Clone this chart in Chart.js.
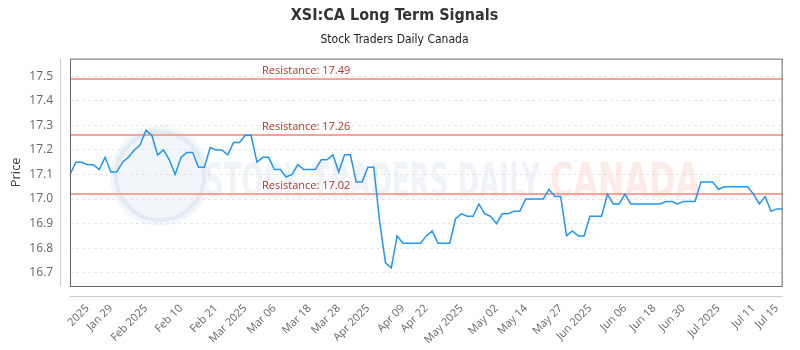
<!DOCTYPE html>
<html>
<head>
<meta charset="utf-8">
<script src="https://cdn.jsdelivr.net/npm/chart.js@4.4.1/dist/chart.umd.min.js"></script>
<style>
  html, body { margin: 0; padding: 0; background: #fff; }
  #wrap { width: 800px; height: 350px; }
</style>
</head>
<body>
<div id="wrap"><canvas id="chart"></canvas></div>
<script>
// closing prices, one per trading day
var prices = [
  17.10, 17.15, 17.15, 17.14, 17.14, 17.12, 17.17, 17.11, 17.11, 17.15,
  17.17, 17.20, 17.22, 17.28, 17.26, 17.18, 17.20, 17.16, 17.10, 17.17,
  17.19, 17.19, 17.13, 17.13, 17.21, 17.20, 17.20, 17.18, 17.23, 17.23,
  17.26, 17.26, 17.15, 17.17, 17.17, 17.12, 17.12, 17.09, 17.10, 17.14,
  17.12, 17.12, 17.12, 17.16, 17.16, 17.18, 17.11, 17.18, 17.18, 17.07,
  17.07, 17.13, 17.13, 16.91, 16.74, 16.72, 16.85, 16.82, 16.82, 16.82,
  16.82, 16.85, 16.87, 16.82, 16.82, 16.82, 16.92, 16.94, 16.93, 16.93,
  16.98, 16.94, 16.93, 16.90, 16.94, 16.94, 16.95, 16.95, 17.00, 17.00,
  17.00, 17.00, 17.04, 17.01, 17.01, 16.85, 16.87, 16.85, 16.85, 16.93,
  16.93, 16.93, 17.02, 16.98, 16.98, 17.02, 16.98, 16.98, 16.98, 16.98,
  16.98, 16.98, 16.99, 16.99, 16.98, 16.99, 16.99, 16.99, 17.07, 17.07,
  17.07, 17.04, 17.05, 17.05, 17.05, 17.05, 17.05, 17.02, 16.98, 17.01,
  16.95, 16.96, 16.96
];

// which points get a date label on the x axis
var tickIndex = [3, 7, 13, 19, 25, 30, 35, 41, 46, 51, 57, 61, 67, 73, 78, 84, 89, 95, 100, 105, 111, 117, 121];
var tickText = ['2025', 'Jan 29', 'Feb 2025', 'Feb 10', 'Feb 21', 'Mar 2025', 'Mar 06', 'Mar 18', 'Mar 28',
  'Apr 2025', 'Apr 09', 'Apr 22', 'May 2025', 'May 02', 'May 14', 'May 27', 'Jun 2025', 'Jun 06',
  'Jun 18', 'Jun 30', 'Jul 2025', 'Jul 11', 'Jul 15'];

var resistance = [17.49, 17.26, 17.02];
var yTicks = [16.7, 16.8, 16.9, 17.0, 17.1, 17.2, 17.3, 17.4, 17.5];
var yMin = 16.646, yMax = 17.572;

var labels = prices.map(function(p, i) {
  var k = tickIndex.indexOf(i);
  return k >= 0 ? tickText[k] : '';
});

var narrow = '"Liberation Sans Narrow", "DejaVu Sans Condensed", "Roboto", sans-serif';
var sans = '"Open Sans", "DejaVu Sans", sans-serif';

var decor = {
  id: 'decor',
  beforeDatasetsDraw: function(chart) {
    var ctx = chart.ctx, a = chart.chartArea, y = chart.scales.y;
    ctx.save();
    ctx.beginPath();
    ctx.rect(a.left, a.top, a.right - a.left, a.bottom - a.top);
    ctx.clip();

    // faded watermark
    var cx = a.left + 90, cy = 176;
    ctx.fillStyle = 'rgba(210,222,238,0.28)';
    ctx.beginPath(); ctx.arc(cx, cy, 50, 0, Math.PI * 2); ctx.fill();
    ctx.strokeStyle = 'rgba(210,222,238,0.5)';
    ctx.lineWidth = 4;
    ctx.beginPath(); ctx.arc(cx, cy, 44, 0, Math.PI * 2); ctx.stroke();
    ctx.font = 'bold 48px ' + narrow;
    ctx.textBaseline = 'alphabetic';
    ctx.textAlign = 'left';
    var t1 = 'STOCK TRADERS DAILY', t2 = 'CANADA';
    var w1 = ctx.measureText(t1).width, w2 = ctx.measureText(t2).width;
    ctx.save();
    ctx.translate(a.left + 135, 197);
    ctx.scale(335 / w1, 1);
    ctx.fillStyle = 'rgba(205,214,228,0.3)';
    ctx.fillText(t1, 0, 0);
    ctx.restore();
    ctx.save();
    ctx.translate(a.left + 480, 197);
    ctx.scale(150 / w2, 1);
    ctx.fillStyle = 'rgba(250,190,180,0.3)';
    ctx.fillText(t2, 0, 0);
    ctx.restore();

    // resistance levels
    resistance.forEach(function(r) {
      var py = Math.round(y.getPixelForValue(r));
      ctx.strokeStyle = '#f3a39c';
      ctx.lineWidth = 2;
      ctx.beginPath(); ctx.moveTo(a.left, py); ctx.lineTo(a.right, py); ctx.stroke();
      ctx.fillStyle = '#b3362c';
      ctx.font = '11px ' + sans;
      ctx.fillText('Resistance: ' + r.toFixed(2), a.left + 192, py - 5);
    });
    ctx.restore();
  },
  afterDraw: function(chart) {
    var ctx = chart.ctx, a = chart.chartArea;
    ctx.save();
    ctx.lineWidth = 1;
    ctx.strokeStyle = '#666';
    ctx.strokeRect(a.left + 0.5, a.top + 0.5, a.right - a.left - 1, a.bottom - a.top);
    ctx.strokeStyle = '#ccc';
    ctx.beginPath();
    ctx.moveTo(a.left - 9.5, a.top); ctx.lineTo(a.left - 9.5, a.bottom);
    ctx.moveTo(a.left, a.bottom + 10.5); ctx.lineTo(a.right, a.bottom + 10.5);
    ctx.stroke();
    ctx.restore();
  }
};

new Chart(document.getElementById('chart'), {
  type: 'line',
  data: {
    labels: labels,
    datasets: [{
      data: prices,
      borderColor: '#2196f3',
      borderWidth: 1.5,
      pointRadius: 0,
      tension: 0,
      fill: false
    }]
  },
  options: {
    responsive: true,
    maintainAspectRatio: false,
    animation: false,
    devicePixelRatio: 1,
    layout: { padding: { left: 0, right: 11, top: 0, bottom: 0 } },
    plugins: {
      legend: { display: false },
      tooltip: { enabled: false },
      title: {
        display: true,
        text: 'XSI:CA Long Term Signals',
        color: '#333',
        font: { family: narrow, size: 16, weight: 'bold' },
        padding: { top: 6, bottom: 5 }
      },
      subtitle: {
        display: true,
        text: 'Stock Traders Daily Canada',
        color: '#222',
        font: { family: narrow, size: 12 },
        padding: { top: 2, bottom: 12 }
      }
    },
    scales: {
      x: {
        grid: { display: false },
        border: { display: false },
        ticks: {
          autoSkip: false,
          minRotation: 45,
          maxRotation: 45,
          padding: 8,
          color: '#666',
          font: { family: sans, size: 11 },
          callback: function(v, i) { return labels[i]; }
        },
        afterFit: function(s) { s.height = 64; }
      },
      y: {
        min: yMin,
        max: yMax,
        afterBuildTicks: function(s) {
          s.ticks = yTicks.map(function(v) { return { value: v }; });
        },
        grid: { color: '#e6e6e6', drawTicks: false },
        border: { display: false, dash: [3, 3] },
        ticks: {
          padding: 17,
          color: '#666',
          font: { family: sans, size: 12 },
          callback: function(v) { return Number(v).toFixed(1); }
        },
        title: {
          display: true,
          text: 'Price',
          color: '#444',
          font: { family: sans, size: 13 },
          padding: { top: 8, bottom: 0 }
        },
        afterFit: function(s) { s.width = 70; }
      }
    }
  },
  plugins: [decor]
});
</script>
</body>
</html>
